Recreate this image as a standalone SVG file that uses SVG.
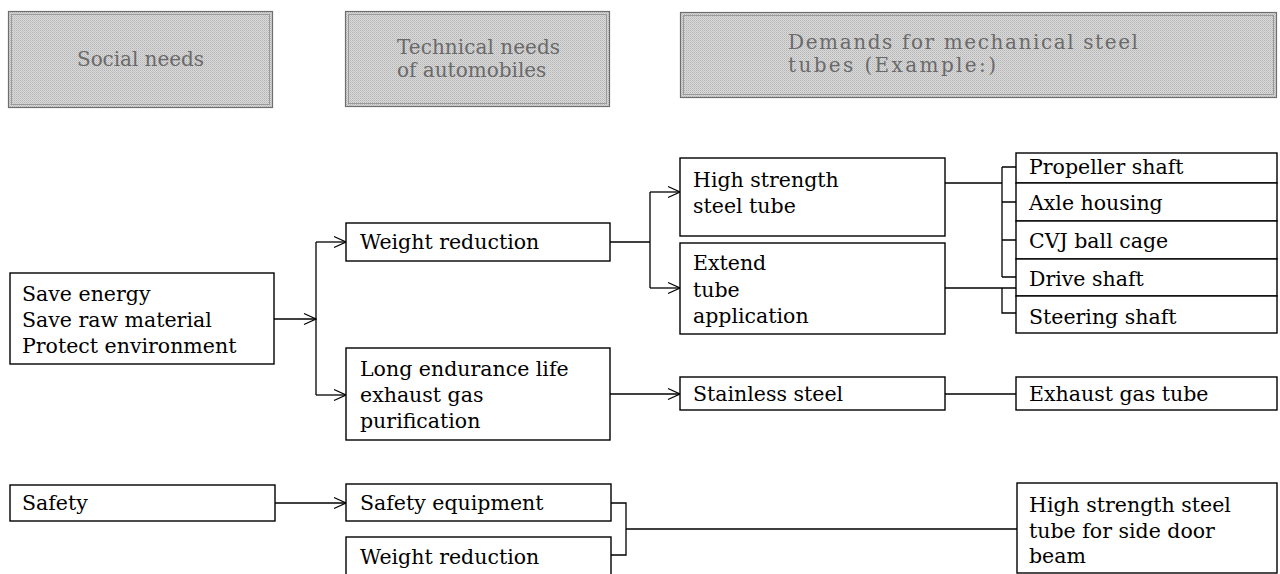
<svg xmlns="http://www.w3.org/2000/svg" width="1280" height="574" viewBox="0 0 1280 574">
<defs>
<pattern id="dots" patternUnits="userSpaceOnUse" width="2" height="2">
<rect width="2" height="2" fill="#dadada"/>
<rect width="1" height="1" fill="#b4b4b4"/>
<rect x="1" y="1" width="1" height="1" fill="#c4c4c4"/>
</pattern>
<marker id="arr" markerWidth="14" markerHeight="14" viewBox="0 0 14 14" refX="13" refY="7" orient="auto" markerUnits="userSpaceOnUse">
<path d="M1,1.5 L13,7 L1,12.5" fill="none" stroke="#000" stroke-width="1.3"/>
</marker>
</defs>
<style>
.hdr{fill:url(#dots);stroke:#6e6e6e;stroke-width:1.2}
.hin{fill:none;stroke:#9a9a9a;stroke-width:1}
.ht{font-family:"DejaVu Serif",serif;font-size:20px;fill:#6a6a6a}
.box{fill:#fff;stroke:#000;stroke-width:1.4}
.t{font-family:"DejaVu Serif",serif;font-size:20.5px;fill:#000}
.c{fill:none;stroke:#000;stroke-width:1.3}
.a{fill:none;stroke:#000;stroke-width:1.3;marker-end:url(#arr)}
</style>
<rect width="1280" height="574" fill="#fff"/>

<g id="h-social">
<rect class="hdr" x="8.5" y="11.5" width="264" height="96"/>
<rect class="hin" x="11.5" y="14.5" width="258" height="90"/>
<text class="ht" x="77" y="66" textLength="127" lengthAdjust="spacing">Social needs</text>
</g>
<g id="h-tech">
<rect class="hdr" x="345.5" y="11.5" width="264" height="95"/>
<rect class="hin" x="348.5" y="14.5" width="258" height="89"/>
<text class="ht" x="397" y="54" textLength="163" lengthAdjust="spacing">Technical needs</text>
<text class="ht" x="397" y="77">of automobiles</text>
</g>
<g id="h-demands">
<rect class="hdr" x="680.5" y="12.5" width="596" height="85"/>
<rect class="hin" x="683.5" y="15.5" width="590" height="79"/>
<text class="ht" x="788" y="49" textLength="350" lengthAdjust="spacing">Demands for mechanical steel</text>
<text class="ht" x="788" y="72" textLength="208" lengthAdjust="spacing">tubes (Example:)</text>
</g>

<g id="connectors">
<path class="a" d="M274,319 H316"/>
<path class="c" d="M316,242 V395"/>
<path class="a" d="M316,242 H346"/>
<path class="a" d="M316,395 H346"/>
<path class="c" d="M610,242 H650 M650,192 V288"/>
<path class="a" d="M650,192 H680"/>
<path class="a" d="M650,288 H680"/>
<path class="a" d="M610,394 H680"/>
<path class="c" d="M945,394 H1016"/>
<path class="c" d="M945,183 H1002 M1002,167 V277 M1002,167 H1016 M1002,202 H1016 M1002,240 H1016 M1002,277 H1016"/>
<path class="c" d="M945,288 H1016 M1002,288 V313 H1016"/>
<path class="a" d="M275,503 H346"/>
<path class="c" d="M611,503 H626 V555 H611 M626,529 H1017"/>
</g>

<g id="n-social1">
<rect class="box" x="10" y="273" width="264" height="91"/>
<text class="t" x="22" y="301">Save energy</text>
<text class="t" x="22" y="327">Save raw material</text>
<text class="t" x="22" y="353">Protect environment</text>
</g>
<g id="n-safety">
<rect class="box" x="10" y="485" width="265" height="36"/>
<text class="t" x="22" y="510">Safety</text>
</g>
<g id="n-weight1">
<rect class="box" x="346" y="223" width="264" height="38"/>
<text class="t" x="360" y="249">Weight reduction</text>
</g>
<g id="n-longlife">
<rect class="box" x="346" y="348" width="264" height="92"/>
<text class="t" x="360" y="376">Long endurance life</text>
<text class="t" x="360" y="402">exhaust gas</text>
<text class="t" x="360" y="428">purification</text>
</g>
<g id="n-safetyeq">
<rect class="box" x="346" y="484" width="265" height="37"/>
<text class="t" x="360" y="510">Safety equipment</text>
</g>
<g id="n-weight2">
<rect class="box" x="346" y="537" width="265" height="40"/>
<text class="t" x="360" y="564">Weight reduction</text>
</g>
<g id="n-hss">
<rect class="box" x="680" y="158" width="265" height="78"/>
<text class="t" x="693" y="187">High strength</text>
<text class="t" x="693" y="213">steel tube</text>
</g>
<g id="n-extend">
<rect class="box" x="680" y="243" width="265" height="91"/>
<text class="t" x="693" y="270">Extend</text>
<text class="t" x="693" y="297">tube</text>
<text class="t" x="693" y="323">application</text>
</g>
<g id="n-stainless">
<rect class="box" x="680" y="377" width="265" height="33"/>
<text class="t" x="693" y="401">Stainless steel</text>
</g>
<g id="n-propeller">
<rect class="box" x="1016" y="153" width="261" height="30"/>
<text class="t" x="1029" y="174">Propeller shaft</text>
</g>
<g id="n-axle">
<rect class="box" x="1016" y="183" width="261" height="38"/>
<text class="t" x="1029" y="210">Axle housing</text>
</g>
<g id="n-cvj">
<rect class="box" x="1016" y="221" width="261" height="38"/>
<text class="t" x="1029" y="248">CVJ ball cage</text>
</g>
<g id="n-drive">
<rect class="box" x="1016" y="259" width="261" height="37"/>
<text class="t" x="1029" y="286">Drive shaft</text>
</g>
<g id="n-steering">
<rect class="box" x="1016" y="296" width="261" height="37"/>
<text class="t" x="1029" y="324">Steering shaft</text>
</g>
<g id="n-exhaust">
<rect class="box" x="1016" y="377" width="261" height="33"/>
<text class="t" x="1029" y="401">Exhaust gas tube</text>
</g>
<g id="n-doorbeam">
<rect class="box" x="1017" y="483" width="260" height="90"/>
<text class="t" x="1029" y="512">High strength steel</text>
<text class="t" x="1029" y="538">tube for side door</text>
<text class="t" x="1029" y="563">beam</text>
</g>
</svg>
